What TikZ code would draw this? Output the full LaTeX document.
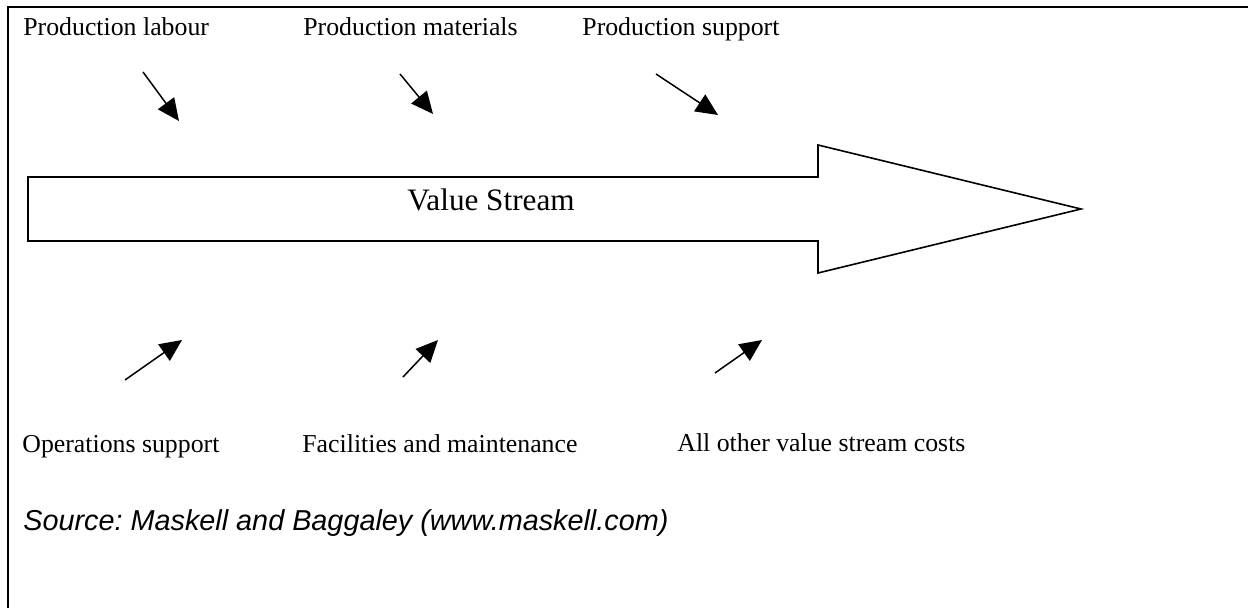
\documentclass[tikz,border=0pt]{standalone}
\usepackage{fontspec}
\setmainfont{Liberation Serif}
\setsansfont{Liberation Sans}
\usetikzlibrary{arrows.meta}
\frenchspacing

\begin{document}
\begin{tikzpicture}[x=0.5pt,y=-0.5pt,
  lbl/.style={anchor=base west,inner sep=0pt,font=\fontsize{12.9}{15}\selectfont},
  cost/.style={-{Triangle[length=11pt,width=10pt]},line width=0.75pt}]
\useasboundingbox (0,0) rectangle (1248,608);
% frame, only top and left sides show
\draw[line width=1.4pt] (8,620) -- (8,7) -- (1260,7);

% the value stream arrow
\draw[line width=0.8pt] (28,177) -- (818,177) -- (818,145) -- (1081,209)
  -- (818,273) -- (818,241) -- (28,241) -- cycle;
\node[anchor=base,inner sep=0pt,font=\fontsize{15.6}{18}\selectfont](vs) at (491,211) {Value Stream};

% cost labels
\node[lbl](labour) at (23,36) {Production labour};
\node[lbl](materials) at (303,36) {Production materials};
\node[lbl](prodsup) at (582,36) {Production support};
\node[lbl](opsup) at (22,453) {Operations support};
\node[lbl](facil) at (302,453) {Facilities and maintenance};
\node[lbl](other) at (677,452) {All other value stream costs};
\node[anchor=base west,inner sep=0pt,font=\sffamily\itshape\fontsize{14.4}{17}\selectfont](src) at (23,531) {Source: Maskell and Baggaley (www.maskell.com)};

% small arrows into the stream
\coordinate (a1) at (143,72);  \coordinate (b1) at (179,121);
\coordinate (a2) at (400,74);  \coordinate (b2) at (433,114);
\coordinate (a3) at (656,74);  \coordinate (b3) at (718,115);
\coordinate (a4) at (125,380); \coordinate (b4) at (182,340);
\coordinate (a5) at (403,377); \coordinate (b5) at (438,340);
\coordinate (a6) at (715,373); \coordinate (b6) at (762,340);

\draw[cost] (a1) -- (b1);
\draw[cost] (a2) -- (b2);
\draw[cost] (a3) -- (b3);
\draw[cost] (a4) -- (b4);
\draw[cost] (a5) -- (b5);
\draw[cost] (a6) -- (b6);
\end{tikzpicture}
\end{document}
